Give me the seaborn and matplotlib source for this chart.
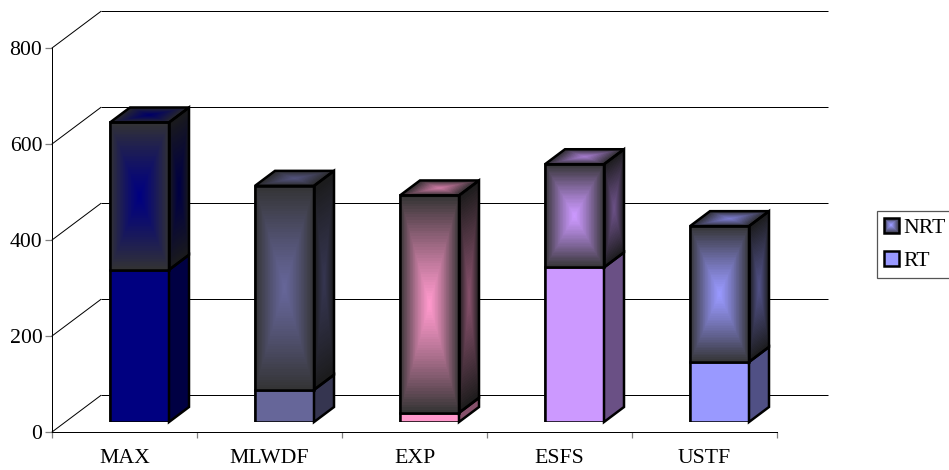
import numpy as np
import pandas as pd
import matplotlib
matplotlib.use("Agg")
import matplotlib.pyplot as plt
from matplotlib.colors import to_rgb
from matplotlib.legend_handler import HandlerBase
from matplotlib.patches import Patch, Polygon, Rectangle
import seaborn as sns

# Throughput per scheduler, split into real-time and non-real-time traffic
schedulers = ["MAX", "MLWDF", "EXP", "ESFS", "USTF"]
rt_values = [317, 67, 19, 322, 125]
nrt_values = [307, 425, 453, 215, 283]
bar_colors = ["#000080", "#666699", "#FF99CC", "#CC99FF", "#9999FF"]
y_ticks = [0, 200, 400, 600, 800]
legend_labels = ["NRT", "RT"]
legend_color = "#9999FF"

W, H = 949, 470
DARK = np.array(to_rgb("#333333"))
SIDE_SHADE = 0.52
TOP_SHADE = 0.8
FONT_PT = 15.7
LINE_PX = 0.72
EDGE_PT = 1.8


def px_axes(fig, left, bottom_y, width, height):
    return fig.add_axes([left / W, 1 - bottom_y / H, width / W, height / H])


def gradient_face(ax, origin, vec_a, vec_b, color, shade=1.0, zorder=2, n=80):
    """Paint a parallelogram with a centre-out gradient running into dark grey."""
    s = np.linspace(0, 1, n + 1)
    S, T = np.meshgrid(s, s)
    X = origin[0] + S * vec_a[0] + T * vec_b[0]
    Y = origin[1] + S * vec_a[1] + T * vec_b[1]
    mid = (s[:-1] + s[1:]) / 2
    U, V = np.meshgrid(mid, mid)
    d = np.maximum(np.abs(2 * U - 1), np.abs(2 * V - 1))[..., None]
    rgb = (DARK + (np.array(to_rgb(color)) - DARK) * (1 - d ** 1.2)) * shade
    ax.pcolormesh(X, Y, rgb, zorder=zorder, antialiased=False, rasterized=True,
                  clip_on=False, edgecolors="none")


def outline(ax, pts, facecolor="none", zorder=4):
    ax.add_patch(Polygon(pts, closed=True, facecolor=facecolor, edgecolor="black",
                         linewidth=EDGE_PT, joinstyle="miter", zorder=zorder, clip_on=False))


class GradientSwatch(HandlerBase):
    """Legend key made of nested squares, dark at the rim and bright in the middle."""

    def create_artists(self, legend, orig_handle, xdescent, ydescent, width, height,
                       fontsize, trans):
        steps = 8
        artists = []
        base = np.array(to_rgb(orig_handle.get_facecolor()[:3]))
        for i in range(steps):
            f = i / steps
            c = DARK + (base - DARK) * (i + 1) / steps
            artists.append(Rectangle(
                (-xdescent + f * width / 2, -ydescent + f * height / 2),
                width * (1 - f), height * (1 - f), facecolor=c, edgecolor="none",
                transform=trans))
        artists.append(Rectangle((-xdescent, -ydescent), width, height, facecolor="none",
                                 edgecolor="black", linewidth=EDGE_PT, transform=trans))
        return artists


sns.set_theme(style="white")
plt.rcParams["font.family"] = ["Liberation Serif", "DejaVu Serif"]
plt.rcParams["font.size"] = FONT_PT

df = pd.DataFrame({"scheduler": schedulers, "RT": rt_values, "NRT": nrt_values})
df["total"] = df["RT"] + df["NRT"]

fig = plt.figure(figsize=(W / 100, H / 100), dpi=100, facecolor="white")

# Floor plane: the value axis, the category axis and the receding wall lines
AX_W, AX_H = 725, 384
ax = px_axes(fig, 52, 432, AX_W, AX_H)
ax.set_xlim(-0.5, len(schedulers) - 0.5)
ax.set_ylim(0, 800)
px_x = len(schedulers) / AX_W
px_y = 800 / AX_H
wall_dx, wall_dy = 49 * px_x, 36.7 * px_y
wall_end = -0.5 + (828 - 52) * px_x
for v in y_ticks:
    ax.plot([-0.5, -0.5 + wall_dx], [v, v + wall_dy], color="black", lw=LINE_PX,
            clip_on=False, zorder=1)
    ax.plot([-0.5 + wall_dx, wall_end], [v + wall_dy] * 2, color="black", lw=LINE_PX,
            clip_on=False, zorder=1, solid_capstyle="butt")

for side in ("top", "right"):
    ax.spines[side].set_visible(False)
for side in ("left", "bottom"):
    ax.spines[side].set_color("black")
    ax.spines[side].set_linewidth(LINE_PX)
ax.set_yticks(y_ticks)
ax.set_xticks(range(len(schedulers)))
ax.set_xticklabels(schedulers)
ax.set_xticks(np.arange(len(schedulers) + 1) - 0.5, minor=True)
ax.tick_params(axis="x", which="major", length=0, pad=12.5, labelsize=FONT_PT, colors="black")
ax.tick_params(axis="x", which="minor", length=4.4, width=0.9, color="#808080", bottom=True)
ax.tick_params(axis="y", length=5, width=0.9, color="#808080", pad=2, left=True,
               labelsize=FONT_PT, labelcolor="black")
ax.set_xlabel("")
ax.set_ylabel("")

# Bar plane: same scales, pushed part of the way into the depth
bar_ax = px_axes(fig, 67, 422, AX_W, AX_H)
bar_ax.patch.set_alpha(0)
sns.barplot(data=df, x="scheduler", y="total", hue="scheduler", palette=bar_colors,
            dodge=False, legend=False, width=0.407, saturation=1, ax=bar_ax,
            edgecolor="black", linewidth=EDGE_PT)
total_bars = list(bar_ax.patches)
sns.barplot(data=df, x="scheduler", y="RT", hue="scheduler", palette=bar_colors,
            dodge=False, legend=False, width=0.407, saturation=1, ax=bar_ax,
            edgecolor="black", linewidth=EDGE_PT, zorder=3)
bar_ax.set_xlim(-0.5, len(schedulers) - 0.5)
bar_ax.set_ylim(0, 800)
bar_ax.axis("off")

# Shaded faces sit on a numeric twin of the bar plane
face_ax = px_axes(fig, 67, 422, AX_W, AX_H)
face_ax.set_xlim(-0.5, len(schedulers) - 0.5)
face_ax.set_ylim(0, 800)
face_ax.axis("off")

depth_x, depth_y = 20 * px_x, 15 * px_y
for bar, rt, color in zip(total_bars, df["RT"], bar_colors):
    x0, w, total = bar.get_x(), bar.get_width(), bar.get_height()
    x1 = x0 + w
    # front of the non-real-time segment
    gradient_face(face_ax, (x0, rt), (w, 0), (0, total - rt), color)
    outline(face_ax, [(x0, rt), (x1, rt), (x1, total), (x0, total)])
    # right-hand side: plain below, gradient above
    side_rt = [(x1, 0), (x1 + depth_x, depth_y), (x1 + depth_x, rt + depth_y), (x1, rt)]
    dim = tuple(np.array(to_rgb(color)) * SIDE_SHADE)
    outline(face_ax, side_rt, facecolor=dim, zorder=3)
    gradient_face(face_ax, (x1, rt), (depth_x, depth_y), (0, total - rt), color, SIDE_SHADE)
    outline(face_ax, [(x1, rt), (x1 + depth_x, rt + depth_y),
                      (x1 + depth_x, total + depth_y), (x1, total)])
    # lid
    gradient_face(face_ax, (x0, total), (w, 0), (depth_x, depth_y), color, TOP_SHADE)
    outline(face_ax, [(x0, total), (x1, total), (x1 + depth_x, total + depth_y),
                      (x0 + depth_x, total + depth_y)])

# Legend box, reaching the right edge of the canvas
nrt_key = Patch(facecolor=legend_color, edgecolor="black")
rt_key = Patch(facecolor=legend_color, edgecolor="black", linewidth=EDGE_PT)
legend = fig.legend(
    [nrt_key, rt_key], legend_labels,
    handler_map={nrt_key: GradientSwatch()},
    loc="upper left", bbox_to_anchor=(876.5 / W, 1 - 210.5 / H), borderaxespad=0,
    frameon=True, fancybox=False, framealpha=1, edgecolor="#555555",
    fontsize=FONT_PT, handlelength=0.69, handleheight=0.69, handletextpad=0.2,
    borderpad=0.33, labelspacing=0.58, labelcolor="black",
)
legend.get_frame().set_linewidth(0.9)

fig.savefig("out.png", dpi=100, facecolor="white")
